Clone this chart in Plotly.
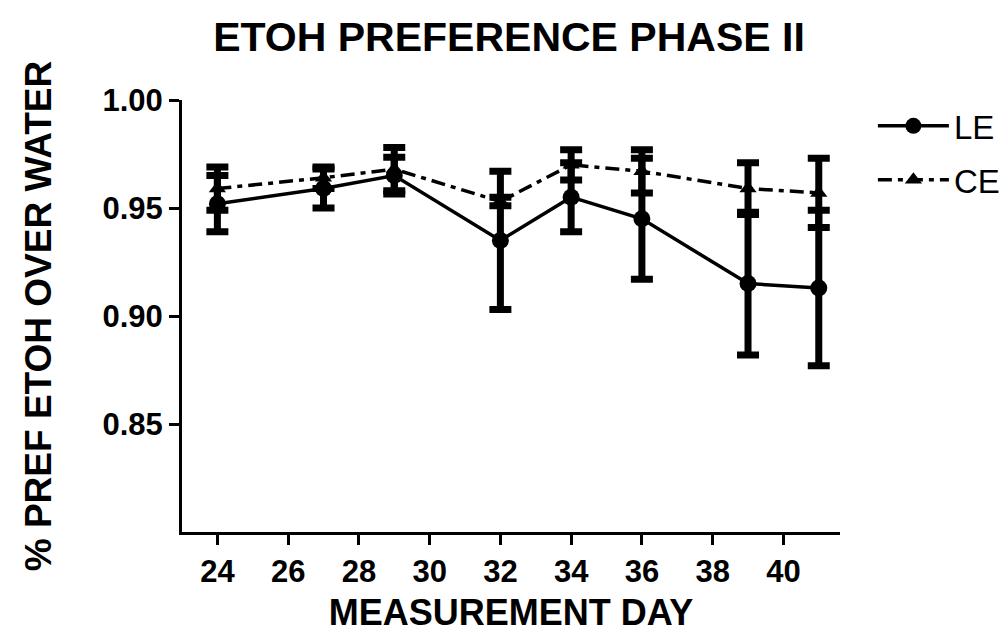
import plotly.graph_objects as go

days = [24, 27, 29, 32, 34, 36, 39, 41]
le_mean = [0.952, 0.959, 0.965, 0.935, 0.955, 0.945, 0.915, 0.913]
le_sem = [0.013, 0.009, 0.0085, 0.032, 0.016, 0.028, 0.033, 0.036]
ce_mean = [0.959, 0.964, 0.968, 0.953, 0.970, 0.967, 0.959, 0.957]
ce_sem = [0.010, 0.005, 0.010, 0.002, 0.007, 0.010, 0.012, 0.016]
x_ticks = [24, 26, 28, 30, 32, 34, 36, 38, 40]
y_ticks = [0.85, 0.90, 0.95, 1.00]
y_tick_text = ["0.85", "0.90", "0.95", "1.00"]

FONT = "Liberation Sans, Arial, sans-serif"

fig = go.Figure()
fig.add_trace(go.Scatter(
    x=days, y=ce_mean, name="CE", mode="lines+markers",
    line=dict(color="black", width=3.5, dash="14px,6px,5px,6px"),
    marker=dict(symbol="triangle-up", size=15, color="black"),
    error_y=dict(type="data", array=ce_sem, visible=True, color="black", thickness=7, width=11),
    legendgroup="b", legendrank=2,
))
fig.add_trace(go.Scatter(
    x=days, y=le_mean, name="LE", mode="lines+markers",
    line=dict(color="black", width=3.5),
    marker=dict(symbol="circle", size=17, color="black"),
    error_y=dict(type="data", array=le_sem, visible=True, color="black", thickness=7, width=11),
    legendgroup="a", legendrank=1,
))

fig.update_layout(
    width=1008, height=634,
    margin=dict(l=182, r=168, t=100, b=102, autoexpand=False),
    paper_bgcolor="white", plot_bgcolor="white",
    title=dict(text="<b>ETOH PREFERENCE PHASE II</b>", x=(509 - 182) / 658, xref="paper", xanchor="center",
               y=1 - 37 / 634, yanchor="middle",
               font=dict(family=FONT, size=41, color="black")),
    legend=dict(x=1.05, y=1.005, xanchor="left", yanchor="top",
                font=dict(family=FONT, size=33, color="black"),
                traceorder="grouped", tracegroupgap=8, itemwidth=71,
                bgcolor="rgba(0,0,0,0)"),
    showlegend=True,
)
fig.update_xaxes(
    range=[23, 41.6], tickvals=x_ticks, ticktext=["<b>%d</b>" % t for t in x_ticks],
    showline=True, linecolor="black", linewidth=3, showgrid=False, zeroline=False,
    ticks="outside", ticklen=10, tickwidth=3, tickcolor="black", automargin=False,
    tickfont=dict(family=FONT, size=31, color="black"),
    title=dict(text="<b>MEASUREMENT DAY</b>", font=dict(family=FONT, size=36, color="black"), standoff=12),
)
fig.update_yaxes(
    range=[0.80, 1.00], tickvals=y_ticks, ticktext=["<b>%s</b>" % t for t in y_tick_text],
    showline=True, linecolor="black", linewidth=3, showgrid=False, zeroline=False,
    ticks="outside", ticklen=10, tickwidth=3, tickcolor="black", automargin=False,
    tickfont=dict(family=FONT, size=31, color="black"),
    title=dict(text="<b>% PREF ETOH OVER WATER</b>", font=dict(family=FONT, size=37, color="black"), standoff=40),
)

fig.write_html("out.html", config={"displayModeBar": False},
               post_script="document.body.style.margin='0';document.body.style.padding='0';")
